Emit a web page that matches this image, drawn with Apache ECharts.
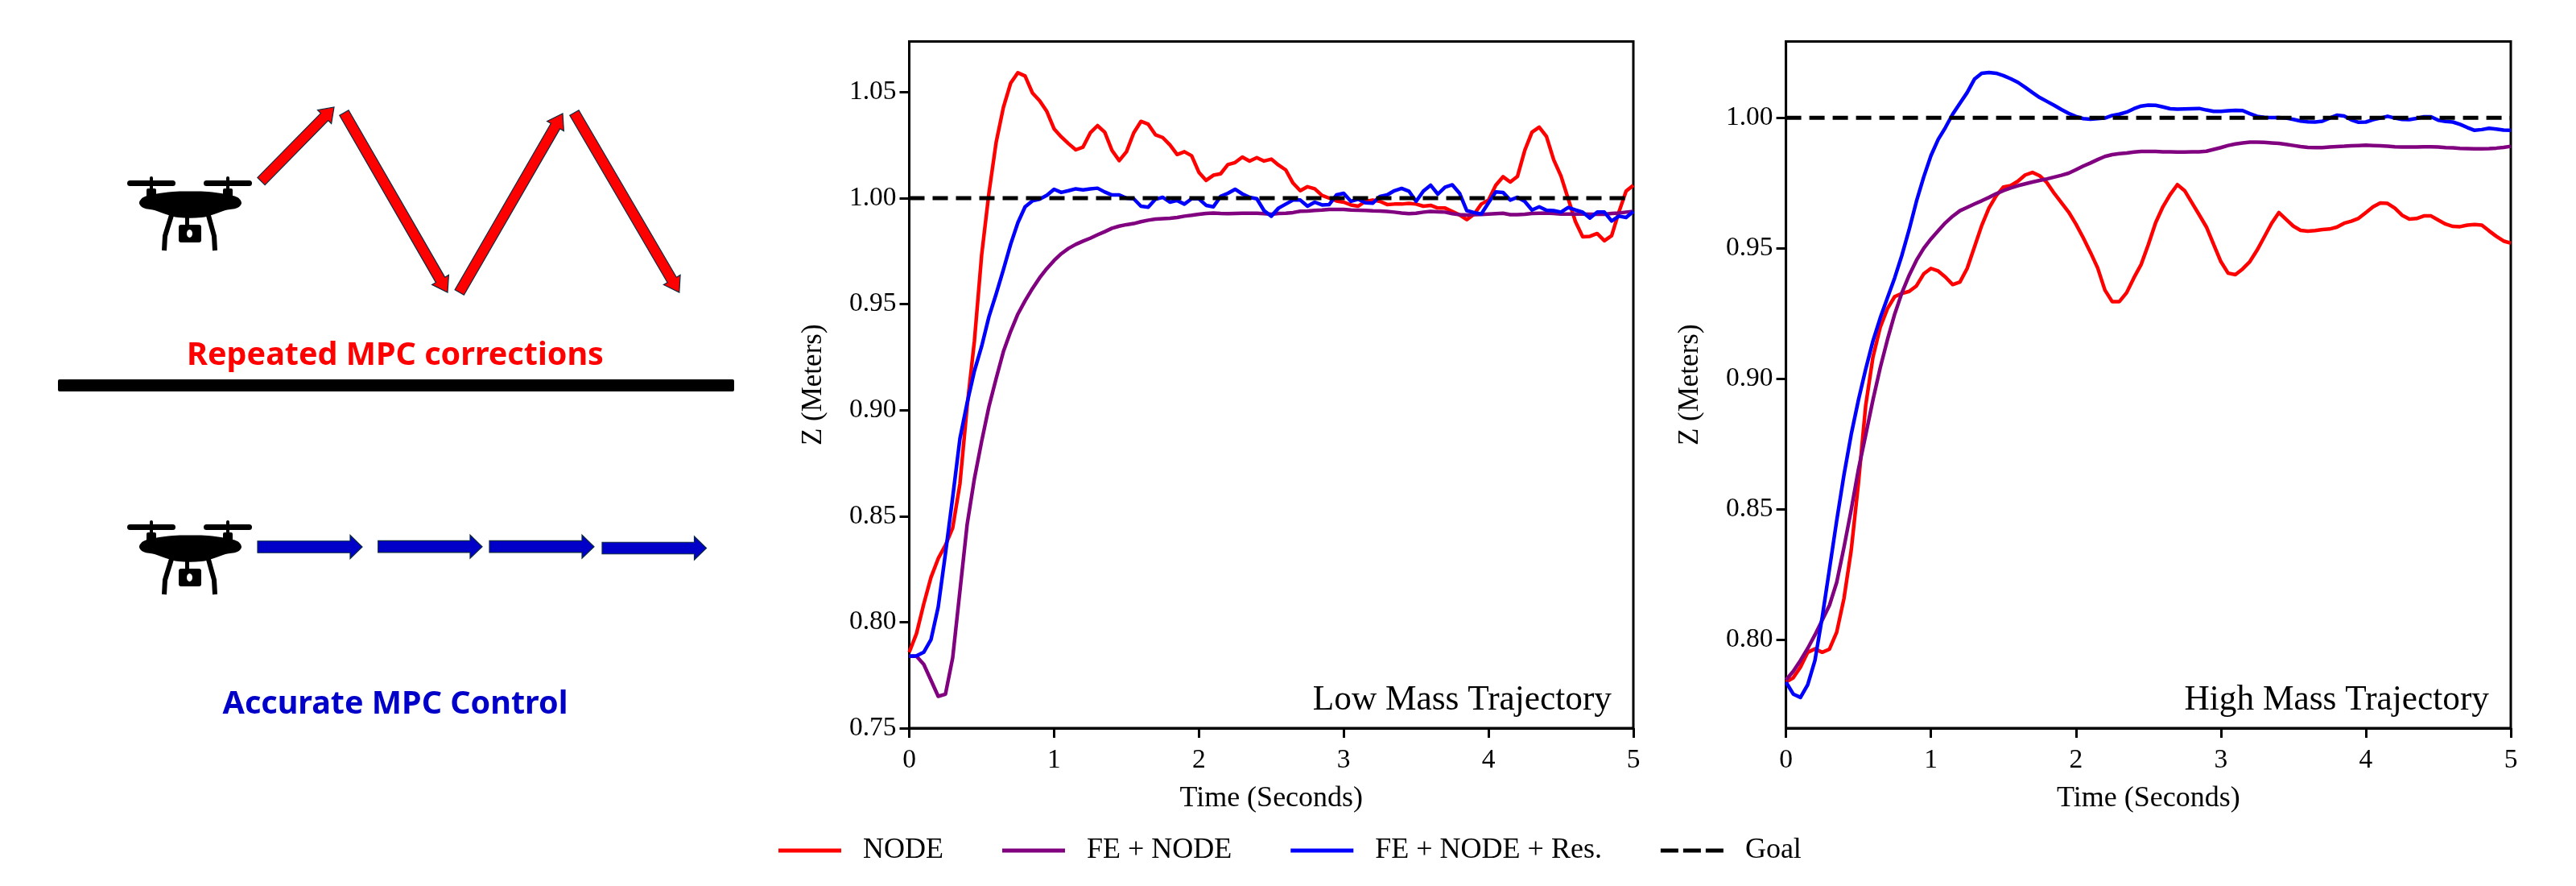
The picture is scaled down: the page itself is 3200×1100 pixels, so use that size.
<!DOCTYPE html>
<html><head><meta charset="utf-8">
<style>html,body{margin:0;padding:0;background:#fff}#c{width:3200px;height:1100px}</style>
<script src="https://cdn.jsdelivr.net/npm/echarts@6/dist/echarts.min.js"></script>
</head><body><div id="c"></div>
<script>
const TIME=[0,.05,.1,.15,.2,.25,.3,.35,.4,.45,.5,.55,.6,.65,.7,.75,.8,.85,.9,.95,1,1.05,1.1,1.15,1.2,1.25,1.3,1.35,1.4,1.45,1.5,1.55,1.6,1.65,1.7,1.75,1.8,1.85,1.9,1.95,2,2.05,2.1,2.15,2.2,2.25,2.3,2.35,2.4,2.45,2.5,2.55,2.6,2.65,2.7,2.75,2.8,2.85,2.9,2.95,3,3.05,3.1,3.15,3.2,3.25,3.3,3.35,3.4,3.45,3.5,3.55,3.6,3.65,3.7,3.75,3.8,3.85,3.9,3.95,4,4.05,4.1,4.15,4.2,4.25,4.3,4.35,4.4,4.45,4.5,4.55,4.6,4.65,4.7,4.75,4.8,4.85,4.9,4.95,5];
const LOW_NODE=[.7858,.7946,.8085,.8211,.83,.8363,.8445,.8653,.902,.9327,.9732,1.0023,1.0263,1.0428,1.0542,1.0592,1.0576,1.0497,1.046,1.0409,1.0327,1.0289,1.0257,1.0228,1.0241,1.0308,1.0342,1.0311,1.0225,1.0177,1.0219,1.0308,1.0362,1.0349,1.0299,1.0286,1.0251,1.0206,1.0219,1.02,1.0122,1.0084,1.0108,1.0115,1.0158,1.0168,1.0194,1.0175,1.0191,1.0175,1.0184,1.0156,1.0133,1.0071,1.0035,1.0054,1.0044,1.0013,1.0,.9987,.9981,.9968,.9962,.9985,.9991,.9985,.997,.9972,.9972,.9975,.9972,.9962,.9966,.9953,.9953,.9937,.9921,.9899,.9924,.9972,.9991,1.0061,1.0101,1.0076,1.0103,1.0225,1.0311,1.0335,1.0291,1.0181,1.0105,.9997,.989,.9818,.982,.9833,.9799,.9823,.9934,1.0033,1.0061];
const LOW_FE=[.7839,.7839,.7801,.7726,.765,.766,.7832,.8147,.8462,.8677,.8853,.9016,.9149,.9276,.9371,.9453,.9516,.9573,.9624,.9668,.9706,.9738,.9763,.9782,.9797,.9811,.9827,.9842,.9858,.9868,.9875,.988,.9889,.9896,.9901,.9903,.9905,.9909,.9915,.9919,.9924,.9928,.993,.9928,.9927,.9928,.9929,.9929,.9929,.9927,.9924,.9928,.9929,.9932,.9938,.9939,.9942,.9944,.9947,.9947,.9947,.9944,.9943,.9942,.994,.9939,.9937,.9934,.993,.9927,.9929,.9934,.9937,.9935,.9934,.9927,.9922,.992,.9922,.9923,.9925,.9927,.9929,.9922,.9922,.9924,.9928,.9929,.993,.9928,.9925,.9925,.9925,.9925,.9924,.9924,.9924,.9928,.993,.9934,.9937];
const LOW_RES=[.7839,.7841,.7858,.7917,.8072,.8324,.8589,.8866,.9035,.9185,.9301,.944,.9548,.9662,.9782,.9884,.9959,.9987,.9995,1.0013,1.0042,1.0027,1.0035,1.0044,1.0039,1.0044,1.0047,1.0029,1.0015,1.0015,1.0,.9997,.9962,.9957,.9995,1.0004,.9981,.9989,.9972,.9997,.9997,.9966,.9959,1.0008,1.0023,1.0042,1.002,1.0004,.9997,.9941,.9915,.9953,.9972,.9991,.9991,.9962,.9981,.9968,.997,1.0015,1.0023,.9985,.9995,.9978,.9976,1.0008,1.0015,1.0035,1.0046,1.0033,.9985,1.0033,1.0061,1.0019,1.0052,1.0063,1.0023,.9941,.9932,.9925,.9978,1.0029,1.0027,.9991,1.0004,.9985,.9944,.9959,.9943,.9941,.9934,.9956,.9944,.9934,.9906,.9934,.9934,.9892,.9915,.9909,.9937];
const HIGH_NODE=[.7838,.7854,.7895,.7952,.7965,.7952,.7964,.8029,.8158,.8343,.8601,.8898,.9083,.9197,.9269,.9315,.9327,.9335,.9356,.9402,.9423,.9413,.939,.9361,.9371,.9423,.9505,.9587,.9654,.9701,.9735,.974,.9757,.9781,.9791,.9778,.9752,.9711,.9675,.9639,.9593,.9541,.9485,.9425,.934,.9296,.9296,.933,.9387,.9438,.9515,.9598,.9659,.9706,.9744,.9721,.9675,.9629,.9582,.9515,.9449,.9405,.9399,.9421,.9449,.9493,.9544,.9596,.9637,.9611,.9585,.9569,.9566,.9568,.9572,.9574,.9581,.9596,.9604,.9615,.9637,.9659,.9674,.9672,.9654,.9627,.9612,.9614,.9624,.9624,.9608,.9593,.9584,.9583,.9589,.9591,.9589,.9567,.9546,.9528,.952];
const HIGH_FE=[.7846,.7879,.7921,.7967,.8019,.8075,.8132,.822,.8354,.8498,.8653,.8785,.8919,.9042,.915,.9248,.933,.9397,.9454,.95,.9536,.9567,.9598,.9623,.9644,.9657,.967,.9682,.9695,.9709,.9721,.9731,.974,.9747,.9754,.976,.9766,.9773,.978,.9788,.9801,.9815,.9827,.984,.9852,.9859,.9863,.9865,.9869,.9871,.9871,.9871,.987,.987,.9869,.9869,.987,.987,.9872,.9879,.9886,.9894,.99,.9904,.9907,.9907,.9906,.9904,.9902,.9898,.9894,.989,.9887,.9886,.9886,.9888,.989,.9891,.9893,.9894,.9895,.9894,.9893,.9891,.9889,.9888,.9888,.9888,.9889,.9889,.9888,.9886,.9885,.9883,.9882,.9881,.9881,.9882,.9884,.9887,.9891];
const HIGH_RES=[.7838,.7792,.7779,.7828,.7921,.8086,.8271,.8457,.8632,.8787,.8919,.9037,.9145,.9233,.931,.9387,.9474,.9572,.968,.9773,.9855,.9917,.9963,1.0014,1.0056,1.0097,1.0148,1.0171,1.0174,1.0171,1.0162,1.015,1.0136,1.0117,1.0097,1.0078,1.0063,1.0048,1.0032,1.0017,1.0005,.9997,.9995,.9997,.9999,1.0009,1.0014,1.0022,1.0035,1.0045,1.0049,1.0048,1.0042,1.0035,1.0033,1.0034,1.0035,1.0036,1.003,1.0025,1.0025,1.0027,1.0029,1.0028,1.0016,1.0006,1.0002,1.0001,1.0001,.9999,.9994,.9988,.9985,.9984,.9987,.9999,1.001,1.0007,.9992,.9983,.9984,.9993,.9999,1.0006,.9999,.9994,.9993,.9998,1.0004,1.0004,.9991,.9986,.9984,.9975,.9963,.9952,.9955,.996,.9957,.9953,.9952];
const GOAL=[1,1];
const GOAL_TIME=[0,5];
const X_TICKS=[0,1,2,3,4,5];
const LOW_Y_TICKS=[.75,.8,.85,.9,.95,1,1.05];
const HIGH_Y_TICKS=[.8,.85,.9,.95,1];
const SERIES_NAMES=['NODE','FE + NODE','FE + NODE + Res.','Goal'];
const COLORS=['#ff0000','#800080','#0000ff','#000000'];
const PANEL_TITLES=['Low Mass Trajectory','High Mass Trajectory'];

const SERIF='"Liberation Serif"';
const zip=(a,b)=>a.map((v,i)=>[v,b[i]]);
function xAxis(i){return{gridIndex:i,type:'value',min:0,max:5,
  axisLine:{onZero:false,lineStyle:{color:'#000',width:3}},
  axisTick:{length:12,inside:false,lineStyle:{color:'#000',width:3},customValues:X_TICKS},
  axisLabel:{customValues:X_TICKS,color:'#000',fontFamily:SERIF,fontSize:33.5,margin:23},
  splitLine:{show:false},name:'Time (Seconds)',nameLocation:'middle',nameGap:70,
  nameTextStyle:{color:'#000',fontFamily:SERIF,fontSize:36}};}
function yAxis(i,min,max,ticks,gap){return{gridIndex:i,type:'value',min,max,
  axisLine:{onZero:false,lineStyle:{color:'#000',width:3}},
  axisTick:{length:12,lineStyle:{color:'#000',width:3},customValues:ticks},
  axisLabel:{customValues:ticks,color:'#000',fontFamily:SERIF,fontSize:33.5,margin:16,formatter:v=>(+v).toFixed(2)},
  splitLine:{show:false},name:'Z (Meters)',nameLocation:'middle',nameGap:gap,
  nameTextStyle:{color:'#000',fontFamily:SERIF,fontSize:35}};}
function line(idx,g,xs,ys){const dash=idx===3;return{type:'line',name:SERIES_NAMES[idx],xAxisIndex:g,yAxisIndex:g,
  data:zip(xs,ys),symbol:'none',showSymbol:false,smooth:false,silent:true,z:3+idx,
  lineStyle:{color:COLORS[idx],width:dash?5:4.5,type:dash?[19,10]:'solid',cap:'butt',join:'round'},itemStyle:{color:COLORS[idx]}};}

/* illustration helpers */
const EDGE='#0b2a3f';
function arrow(x1,y1,x2,y2,w,hw,hl,fill){
  const L=Math.hypot(x2-x1,y2-y1),ux=(x2-x1)/L,uy=(y2-y1)/L,nx=-uy,ny=ux;
  const bx=x2-ux*hl,by=y2-uy*hl;
  return{type:'polygon',shape:{points:[[x1+nx*w/2,y1+ny*w/2],[bx+nx*w/2,by+ny*w/2],[bx+nx*hw/2,by+ny*hw/2],[x2,y2],[bx-nx*hw/2,by-ny*hw/2],[bx-nx*w/2,by-ny*w/2],[x1-nx*w/2,y1-ny*w/2]]},
    style:{fill,stroke:EDGE,lineWidth:1.2},silent:true};
}
function drone(dy){
  const k={fill:'#000'},els=[];
  const r=(x,y,w,h,rr)=>els.push({type:'rect',shape:{x,y:y+dy,width:w,height:h,r:rr||0},style:k,silent:true});
  r(158,224,60,7,3.5);r(253,224,60,7,3.5);
  r(186,219,4,21,2);r(281,219,4,21,2);
  r(182,234,12,12,2);r(277,234,12,12,2);
  els.push({type:'polygon',shape:{smooth:0.35,points:[[173,252],[178,245],[192,241],[215,238],[236,237.5],[258,238],[280,241],[295,245],[300,252],[295,258],[280,261],[266,266],[250,270],[222,270],[206,266],[192,261],[178,258]].map(p=>[p[0],p[1]+dy])},style:k,silent:true});
  const leg=(pts)=>els.push({type:'polyline',shape:{points:pts.map(p=>[p[0],p[1]+dy])},style:{stroke:'#000',fill:null,lineWidth:6,lineJoin:'round'},silent:true});
  leg([[214,264],[205,293],[204,311]]);leg([[258,264],[266,293],[267,311]]);
  r(230,268,5,12);
  r(222,279,28,22,3);
  els.push({type:'ellipse',shape:{cx:235.5,cy:290+dy,rx:3.5,ry:5},style:{fill:'#fff'},silent:true});
  return els;
}
const RED='#ff0000',BLUE='#0000c8';
const TXT='"Noto Sans"';
const graphics=[
  ...drone(0),...drone(427),
  arrow(324.5,225,415,133,13,24,17,RED),
  arrow(427.4,140,556,363,13,24,18,RED),
  arrow(570.7,363,699,141,13,24,18,RED),
  arrow(713.4,140,843.8,363,13,24,18,RED),
  arrow(320,679,450,679,14.5,29,15,BLUE),
  arrow(469.7,678.7,599,678.7,14.5,29,15,BLUE),
  arrow(608,678.7,738,678.7,14.5,29,15,BLUE),
  arrow(748,680.5,877.5,680.5,14.5,29,15,BLUE),
  {type:'rect',shape:{x:72,y:471,width:840,height:15,r:2},style:{fill:'#000'},silent:true},
  {type:'text',x:491,y:442,style:{text:'Repeated MPC corrections',fill:RED,font:`bold 39.5px ${TXT}`,textAlign:'center',textVerticalAlign:'middle'},silent:true},
  {type:'text',x:491,y:875,style:{text:'Accurate MPC Control',fill:BLUE,font:`bold 39.5px ${TXT}`,textAlign:'center',textVerticalAlign:'middle'},silent:true},
  {type:'text',x:2002,y:870,style:{text:PANEL_TITLES[0],fill:'#000',font:`43.3px ${SERIF}`,textAlign:'right',textVerticalAlign:'middle'},silent:true},
  {type:'text',x:3092,y:870,style:{text:PANEL_TITLES[1],fill:'#000',font:`43.3px ${SERIF}`,textAlign:'right',textVerticalAlign:'middle'},silent:true}
];
const LEGEND_ICONS=['rect','rect','rect','path://M0 0H22V5H0Z M28 0H50V5H28Z M56 0H78V5H56Z'];

const chart=echarts.init(document.getElementById('c'),null,{renderer:'canvas'});
chart.setOption({
  animation:false,backgroundColor:'#fff',
  grid:[
    {left:1129.5,top:51.5,width:899.5,height:852.5,show:true,borderColor:'#000',borderWidth:3,backgroundColor:'transparent',containLabel:false},
    {left:2218.6,top:51.5,width:900.4,height:852.5,show:true,borderColor:'#000',borderWidth:3,backgroundColor:'transparent',containLabel:false}
  ],
  xAxis:[xAxis(0),xAxis(1)],
  yAxis:[yAxis(0,.75,1.0739,LOW_Y_TICKS,101),yAxis(1,.76614,1.02926,HIGH_Y_TICKS,101)],
  legend:{show:true,left:962,top:1033,orient:'horizontal',itemWidth:78,itemHeight:5,itemGap:73,
    data:SERIES_NAMES.map((name,i)=>({name,icon:LEGEND_ICONS[i]})),
    textStyle:{color:'#000',fontFamily:SERIF,fontSize:36,padding:[0,0,0,22]},selectedMode:false},
  series:[
    line(0,0,TIME,LOW_NODE),line(1,0,TIME,LOW_FE),line(2,0,TIME,LOW_RES),line(3,0,GOAL_TIME,GOAL),
    line(0,1,TIME,HIGH_NODE),line(1,1,TIME,HIGH_FE),line(2,1,TIME,HIGH_RES),line(3,1,GOAL_TIME,GOAL)
  ],
  graphic:{elements:graphics}
});
</script></body></html>
